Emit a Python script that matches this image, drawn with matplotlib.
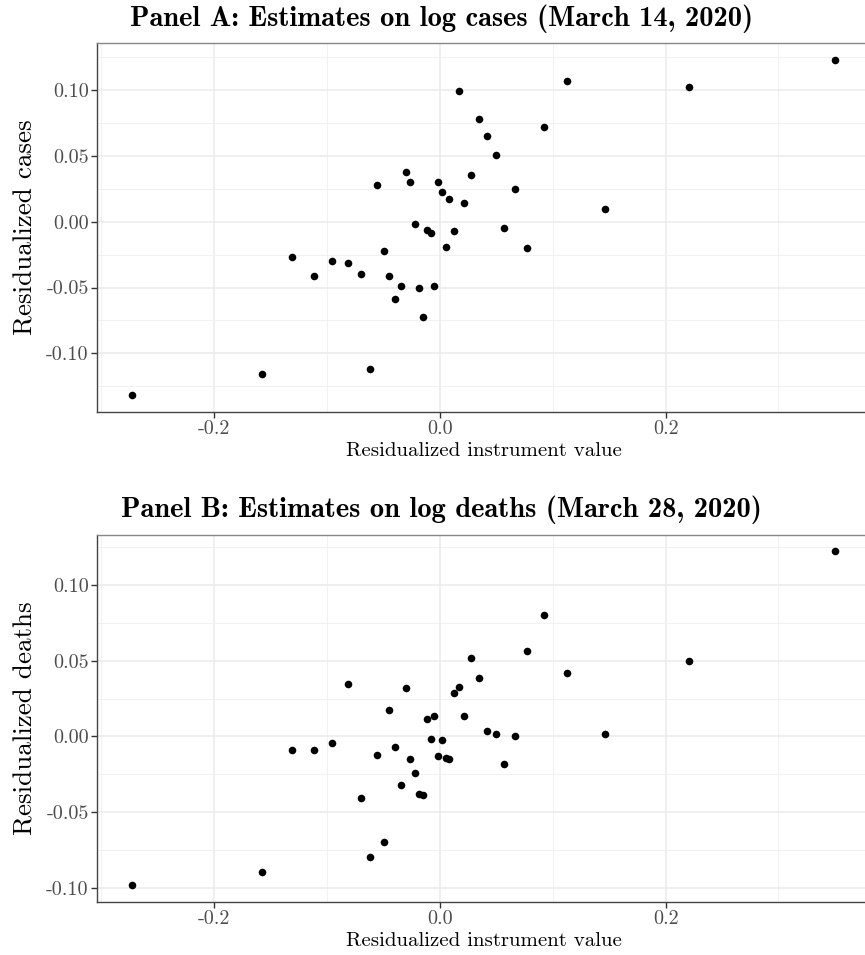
import matplotlib
matplotlib.use("Agg")
import matplotlib.pyplot as plt
from matplotlib.ticker import FixedLocator, FixedFormatter

plt.rcParams["font.family"] = "cmr10"
plt.rcParams["axes.unicode_minus"] = False

# residualized instrument value (same units in both panels)
instrument = [-0.2727, -0.1580, -0.1309, -0.1117, -0.0957, -0.0812, -0.0703, -0.0617,
              -0.0555, -0.0499, -0.0449, -0.0396, -0.0346, -0.0301, -0.0263, -0.0219,
              -0.0183, -0.0148, -0.0118, -0.0083, -0.0053, -0.0021, 0.0015, 0.0050,
              0.0083, 0.0127, 0.0168, 0.0216, 0.0272, 0.0346, 0.0419, 0.0496,
              0.0570, 0.0662, 0.0768, 0.0922, 0.1123, 0.1459, 0.2204, 0.3500]

resid_cases = [-0.1319, -0.1160, -0.0268, -0.0416, -0.0302, -0.0314, -0.0398, -0.1123,
               0.0277, -0.0220, -0.0413, -0.0588, -0.0492, 0.0378, 0.0299, -0.0020,
               -0.0507, -0.0725, -0.0061, -0.0086, -0.0489, 0.0299, 0.0226, -0.0192,
               0.0170, -0.0073, 0.0991, 0.0145, 0.0357, 0.0779, 0.0649, 0.0510,
               -0.0048, 0.0249, -0.0197, 0.0723, 0.1072, 0.0094, 0.1024, 0.1230]

resid_deaths = [-0.0985, -0.0897, -0.0088, -0.0088, -0.0042, 0.0348, -0.0405, -0.0797,
                -0.0126, -0.0700, 0.0176, -0.0073, -0.0322, 0.0321, -0.0152, -0.0240,
                -0.0379, -0.0390, 0.0114, -0.0018, 0.0136, -0.0128, -0.0024, -0.0145,
                -0.0150, 0.0288, 0.0328, 0.0136, 0.0520, 0.0387, 0.0033, 0.0013,
                -0.0185, 0.0004, 0.0564, 0.0804, 0.0420, 0.0013, 0.0500, 0.1224]

x_ticks = [-0.2, 0.0, 0.2]
x_minor = [-0.3, -0.1, 0.1, 0.3]
y_ticks = [-0.10, -0.05, 0.00, 0.05, 0.10]
y_minor = [-0.125, -0.075, -0.025, 0.025, 0.075, 0.125]

panels = [
    ("Panel A: Estimates on log cases (March 14, 2020)", "Residualized cases", resid_cases),
    ("Panel B: Estimates on log deaths (March 28, 2020)", "Residualized deaths", resid_deaths),
]

fig = plt.figure(figsize=(8.65, 9.55), dpi=100)
boxes = [[0.1121, 0.5686, 0.8937, 0.3861], [0.1121, 0.0555, 0.8937, 0.3848]]
title_y = [0.9728, 0.4586]

for (title, ylab, yvals), box, ty in zip(panels, boxes, title_y):
    ax = fig.add_axes(box)
    ax.scatter(instrument, yvals, s=30, color="black", zorder=3, linewidths=0)
    ax.margins(0.05)

    ax.xaxis.set_major_locator(FixedLocator(x_ticks))
    ax.xaxis.set_major_formatter(FixedFormatter(["%.1f" % v for v in x_ticks]))
    ax.xaxis.set_minor_locator(FixedLocator(x_minor))
    ax.yaxis.set_major_locator(FixedLocator(y_ticks))
    ax.yaxis.set_major_formatter(FixedFormatter(["%.2f" % v for v in y_ticks]))
    ax.yaxis.set_minor_locator(FixedLocator(y_minor))

    ax.grid(which="major", color="#EBEBEB", linewidth=1.1, zorder=0)
    ax.grid(which="minor", color="#EFEFEF", linewidth=0.6, zorder=0)
    ax.set_axisbelow(True)
    ax.tick_params(which="major", length=4.5, width=1.0, color="#333333",
                   labelsize=14.5, labelcolor="#4D4D4D", pad=1.5)
    ax.tick_params(which="minor", length=0)
    for side, sp in ax.spines.items():
        sp.set_color("#888888" if side in ("top", "right") else "#444444")
        sp.set_linewidth(1.0)

    ax.set_xlabel("Residualized instrument value", fontsize=15, labelpad=3)
    ax.set_ylabel(ylab, fontsize=19.5, labelpad=6)
    fig.text(0.5104, ty, title, ha="center", va="baseline", fontsize=20.5,
             family="cmb10")

fig.savefig("out.png", dpi=100)
